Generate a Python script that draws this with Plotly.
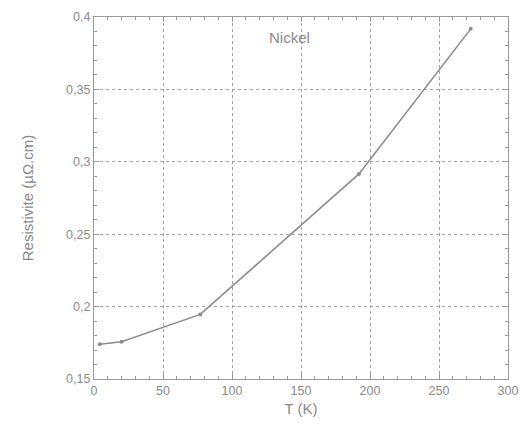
import plotly.graph_objects as go

T_K = [4.2, 20, 77, 192, 273]
resistivity = [0.174, 0.1757, 0.1946, 0.2916, 0.3918]

x_ticks = [0, 50, 100, 150, 200, 250, 300]
x_ticktext = ["0", "50", "100", "150", "200", "250", "300"]
y_ticks = [0.15, 0.2, 0.25, 0.3, 0.35, 0.4]
y_ticktext = ["0,15", "0,2", "0,25", "0,3", "0,35", "0,4"]

grey = "#8c8c8c"
font = "Liberation Sans, Arial, sans-serif"

fig = go.Figure()
fig.add_trace(go.Scatter(
    x=T_K, y=resistivity, mode="lines+markers",
    line=dict(color=grey, width=1.6),
    marker=dict(color=grey, size=4),
    showlegend=False,
))
# invisible trace to draw mirrored top/right axes with minor ticks
fig.add_trace(go.Scatter(
    x=T_K, y=resistivity, xaxis="x2", yaxis="y2", mode="markers",
    marker=dict(opacity=0), hoverinfo="skip", showlegend=False,
))

tick_col = "#999999"
axis_common = dict(
    showline=True, linecolor=tick_col, linewidth=1.2,
    ticks="inside", ticklen=5, tickcolor=tick_col,
    zeroline=False, automargin=False,
    tickfont=dict(family=font, size=12.5, color="#8a8a8a"),
)

fig.update_layout(
    xaxis=dict(
        range=[0, 300], tickvals=x_ticks, ticktext=x_ticktext,
        ticklabeloverflow="allow",
        showgrid=True, gridcolor="#a0a0a0", griddash="dot", gridwidth=1,
        minor=dict(ticks="inside", dtick=10, ticklen=3, tickcolor=tick_col, showgrid=False),
        title=dict(text="T (K)", font=dict(family=font, size=15, color="#8a8a8a"), standoff=6),
        **axis_common,
    ),
    yaxis=dict(
        range=[0.15, 0.4], tickvals=y_ticks, ticktext=y_ticktext,
        ticklabeloverflow="allow",
        showgrid=True, gridcolor="#a0a0a0", griddash="dot", gridwidth=1,
        minor=dict(ticks="inside", dtick=0.01, ticklen=3, tickcolor=tick_col, showgrid=False),
        title=dict(text="Resistivite (µΩ.cm)", font=dict(family=font, size=15, color="#8a8a8a"), standoff=28),
        **axis_common,
    ),
    xaxis2=dict(
        overlaying="x", side="top", range=[0, 300], tickvals=x_ticks,
        showticklabels=False, showgrid=False,
        minor=dict(ticks="inside", dtick=10, ticklen=3, tickcolor=tick_col, showgrid=False),
        **axis_common,
    ),
    yaxis2=dict(
        overlaying="y", side="right", range=[0.15, 0.4], tickvals=y_ticks,
        showticklabels=False, showgrid=False,
        minor=dict(ticks="inside", dtick=0.01, ticklen=3, tickcolor=tick_col, showgrid=False),
        **axis_common,
    ),
)

fig.add_annotation(
    x=142, y=0.386, text="Nickel", showarrow=False,
    font=dict(family=font, size=15, color="#8a8a8a"),
)

fig.update_layout(
    width=520, height=428,
    margin=dict(l=94, r=12, t=17, b=49, autoexpand=False),
    plot_bgcolor="white", paper_bgcolor="white",
)

# remove the default page margin so the figure fills the window exactly
fig.write_html(
    "out.html",
    config={"displayModeBar": False},
    post_script="document.body.style.margin='0';document.body.style.overflow='hidden';",
)
